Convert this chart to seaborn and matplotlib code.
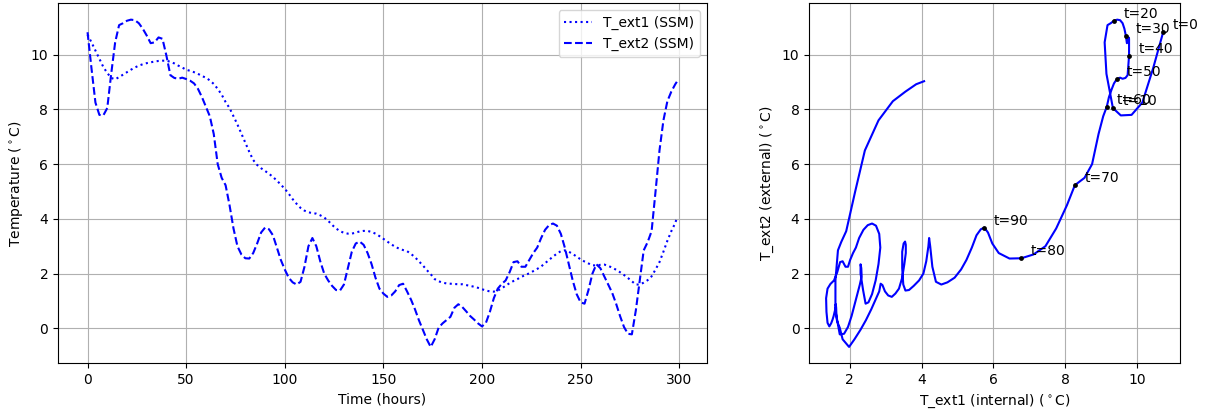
import matplotlib
matplotlib.use("Agg")
import matplotlib.pyplot as plt
import seaborn as sns

# time axis (hours)
hours = list(range(0, 300, 2)) + [299]

# T_ext1 (internal), degC
t_ext1 = [
    10.73, 10.45, 10.15, 9.85, 9.55, 9.33, 9.15, 9.1, 9.18, 9.27,
    9.36, 9.45, 9.53, 9.6, 9.65, 9.69, 9.72, 9.75, 9.77, 9.78,
    9.78, 9.74, 9.68, 9.6, 9.53, 9.45, 9.41, 9.36, 9.3, 9.22,
    9.16, 9.06, 8.93, 8.75, 8.54, 8.27, 8.05, 7.75, 7.45, 7.12,
    6.78, 6.45, 6.15, 5.97, 5.85, 5.75, 5.65, 5.53, 5.4, 5.25,
    5.1, 4.92, 4.72, 4.55, 4.4, 4.3, 4.24, 4.21, 4.19, 4.13,
    4.05, 3.93, 3.78, 3.65, 3.55, 3.49, 3.46, 3.46, 3.5, 3.54,
    3.56, 3.56, 3.52, 3.46, 3.37, 3.27, 3.17, 3.07, 2.98, 2.91,
    2.86, 2.82, 2.72, 2.6, 2.45, 2.3, 2.13, 1.98, 1.8, 1.72,
    1.67, 1.64, 1.63, 1.62, 1.61, 1.61, 1.58, 1.55, 1.52, 1.48,
    1.43, 1.38, 1.35, 1.34, 1.38, 1.46, 1.56, 1.65, 1.73, 1.8,
    1.88, 1.95, 2.01, 2.09, 2.17, 2.26, 2.38, 2.5, 2.62, 2.73,
    2.82, 2.85, 2.8, 2.72, 2.62, 2.52, 2.44, 2.37, 2.3, 2.3,
    2.32, 2.33, 2.28, 2.22, 2.14, 2.05, 1.95, 1.84, 1.72, 1.6,
    1.6, 1.67, 1.76, 1.9, 2.15, 2.42, 2.8, 3.2, 3.55, 3.85,
    4.07,
]

# T_ext2 (external), degC
t_ext2 = [
    10.82, 9.5, 8.25, 7.8, 7.78, 8.05, 9.3, 10.45, 11.08, 11.15,
    11.24, 11.28, 11.26, 11.15, 10.95, 10.7, 10.42, 10.45, 10.63, 10.58,
    9.96, 9.25, 9.15, 9.12, 9.16, 9.11, 9.05, 8.95, 8.75, 8.45,
    8.1, 7.75, 7.1, 6.0, 5.5, 5.23, 4.5, 3.65, 3.0, 2.7,
    2.56, 2.55, 2.75, 3.1, 3.5, 3.68, 3.62, 3.4, 2.95, 2.5,
    2.15, 1.85, 1.68, 1.6, 1.7, 2.25, 3.0, 3.3, 3.0, 2.45,
    2.0, 1.75, 1.55, 1.4, 1.38, 1.6, 2.2, 2.8, 3.1, 3.17,
    3.05, 2.75, 2.35, 1.85, 1.45, 1.27, 1.15, 1.2, 1.35, 1.58,
    1.63, 1.35, 1.05, 0.7, 0.3, -0.05, -0.4, -0.68, -0.4, 0.02,
    0.18, 0.3, 0.42, 0.75, 0.88, 0.78, 0.62, 0.45, 0.32, 0.18,
    0.07, 0.2, 0.6, 1.1, 1.45, 1.62, 1.75, 2.05, 2.42, 2.45,
    2.25, 2.25, 2.5, 2.75, 2.95, 3.3, 3.6, 3.77, 3.83, 3.75,
    3.45, 2.95, 2.35, 1.75, 1.25, 0.95, 0.9, 1.4, 2.0, 2.34,
    2.2, 1.9, 1.6, 1.3, 0.9, 0.45, 0.05, -0.2, -0.22, 0.65,
    1.75, 2.85, 3.15, 3.55, 5.0, 6.5, 7.6, 8.3, 8.65, 8.92,
    9.03,
]

# annotated time stamps on the phase plot
marked_hours = [0, 10, 20, 30, 40, 50, 60, 70, 80, 90]

fig = plt.figure(figsize=(12.12, 4.15), dpi=100)
ax1 = fig.add_axes([0.0479, 0.1246, 0.5352, 0.8675])
ax2 = fig.add_axes([0.6677, 0.1246, 0.3059, 0.8675])

# ---- left: time series ----
sns.lineplot(x=hours, y=t_ext1, ax=ax1, color="blue", linestyle=":",
             linewidth=1.5, label="T_ext1 (SSM)", estimator=None, sort=False)
sns.lineplot(x=hours, y=t_ext2, ax=ax1, color="blue", linestyle="--",
             linewidth=1.5, label="T_ext2 (SSM)", estimator=None, sort=False)
ax1.set_xlabel("Time (hours)")
ax1.set_ylabel("Temperature ($^\\circ$C)")
ax1.set_xticks([0, 50, 100, 150, 200, 250, 300])
ax1.set_yticks([0, 2, 4, 6, 8, 10])
ax1.grid(True, color="#b0b0b0", linewidth=0.8)
ax1.legend(loc="upper right", fontsize=10)

# ---- right: phase plot ----
sns.lineplot(x=t_ext1, y=t_ext2, ax=ax2, color="blue", linewidth=1.5,
             sort=False, estimator=None)
idx = [hours.index(h) for h in marked_hours]
mx = [t_ext1[i] for i in idx]
my = [t_ext2[i] for i in idx]
sns.scatterplot(x=mx, y=my, ax=ax2, color="black", s=12, linewidth=0, zorder=3)
for h, x, y in zip(marked_hours, mx, my):
    ax2.annotate(f"t={h}", (x, y), textcoords="offset points",
                 xytext=(7, 2), fontsize=10)
ax2.set_xlabel("T_ext1 (internal) ($^\\circ$C)")
ax2.set_ylabel("T_ext2 (external) ($^\\circ$C)")
ax2.set_xticks([2, 4, 6, 8, 10])
ax2.set_yticks([0, 2, 4, 6, 8, 10])
ax2.grid(True, color="#b0b0b0", linewidth=0.8)

fig.savefig("out.png", dpi=100)
